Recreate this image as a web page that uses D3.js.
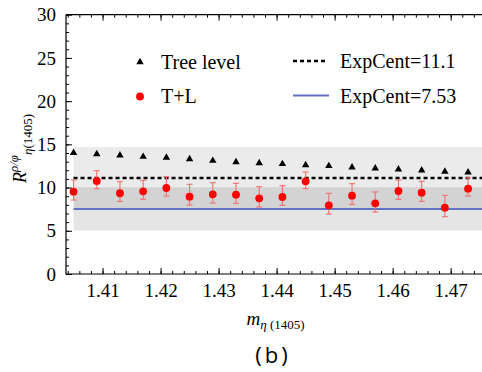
<!DOCTYPE html>
<html><head><meta charset="utf-8">
<script src="https://cdn.jsdelivr.net/npm/d3@7"></script>
<style>body{margin:0;background:#fff}svg{display:block}
.serif, .serif text{font-family:'Liberation Serif','Times New Roman',serif !important;}
</style>
</head><body>
<script>
const masses = [1.405,1.409,1.413,1.417,1.421,1.425,1.429,1.433,1.437,1.441,1.445,1.449,1.453,1.457,1.461,1.465,1.469,1.473];
const treeLevel = [14.03,13.88,13.73,13.57,13.46,13.30,13.11,12.96,12.84,12.73,12.61,12.50,12.35,12.23,12.11,12.00,11.84,11.77];
const tlValue = [9.52,10.76,9.34,9.57,9.95,8.95,9.22,9.18,8.76,8.91,10.72,7.95,9.06,8.18,9.60,9.41,7.67,9.87];
const tlLow  = [8.56,9.87,8.41,8.64,9.02,7.98,8.21,8.18,7.75,7.95,9.87,6.94,8.06,7.17,8.64,8.41,6.63,9.02];
const tlHigh = [10.88,11.95,10.68,10.84,11.26,10.38,10.56,10.49,10.10,10.22,11.80,9.34,10.45,9.49,10.88,10.72,9.10,11.14];
const expCent = [11.1, 7.53];
const expErr = [3.6, 2.5];
const xTicks = [1.41,1.42,1.43,1.44,1.45,1.46,1.47];
const yTicks = [0,5,10,15,20,25,30];
const legendLabels = ["Tree level","T+L","ExpCent=11.1","ExpCent=7.53"];

const W=482,H=372;
const svg=d3.select("body").append("svg").attr("width",W).attr("height",H);
const x=d3.scaleLinear().domain([1.4037,1.4754]).range([66,482]);
const y=d3.scaleLinear().domain([0,30]).range([274,14.7]);

// bands
const bandCols=["rgba(0,0,0,0.08)","rgba(0,0,0,0.10)"];
expCent.forEach((c,i)=>{
  svg.append("rect").attr("x",x(masses[0])).attr("width",x.range()[1]-x(masses[0])+5)
    .attr("y",y(c+expErr[i])).attr("height",y(c-expErr[i])-y(c+expErr[i]))
    .attr("fill",bandCols[i]);
});
// lines
svg.append("line").attr("x1",x(masses[0])).attr("x2",490).attr("y1",y(expCent[0])).attr("y2",y(expCent[0]))
  .attr("stroke","#000").attr("stroke-width",2.5).attr("stroke-dasharray","4,3");
svg.append("line").attr("x1",x(masses[0])).attr("x2",490).attr("y1",y(expCent[1])).attr("y2",y(expCent[1]))
  .attr("stroke","#6272c4").attr("stroke-width",2);

// axes
function styleAxis(g){g.select(".domain").remove();g.selectAll("line").attr("stroke","#000");}
svg.append("g").attr("transform","translate(66,0)")
  .call(d3.axisLeft(y).tickValues(d3.range(0,31,1)).tickSize(-3).tickFormat(""))
  .call(styleAxis);
svg.append("g").attr("class","serif").attr("transform","translate(66,0)")
  .call(d3.axisLeft(y).tickValues(yTicks).tickSize(-6).tickPadding(10).tickFormat(d3.format("d")))
  .call(styleAxis)
  .call(g=>g.selectAll("text").attr("font-size",19).attr("fill","#000"));
const minorX=d3.range(1.404,1.4755,0.002);
svg.append("g").attr("transform","translate(0,274)")
  .call(d3.axisBottom(x).tickValues(minorX).tickSize(-3).tickFormat(""))
  .call(styleAxis);
svg.append("g").attr("class","serif").attr("transform","translate(0,274)")
  .call(d3.axisBottom(x).tickValues(xTicks).tickSize(-6).tickPadding(10).tickFormat(d3.format(".2f")))
  .call(styleAxis)
  .call(g=>g.selectAll("text").attr("font-size",19).attr("fill","#000"));
svg.append("g").attr("transform","translate(0,14.7)")
  .call(d3.axisTop(x).tickValues(minorX).tickSize(-3).tickFormat(""))
  .call(styleAxis);
svg.append("g").attr("transform","translate(0,14.7)")
  .call(d3.axisTop(x).tickValues(xTicks).tickSize(-6).tickFormat(""))
  .call(styleAxis);
// frame
svg.append("path").attr("d",`M66,14.7V274H482M66,14.7H482`).attr("fill","none").attr("stroke","#000").attr("stroke-width",1.2);

// error bars
const eb=svg.append("g").attr("stroke","#f07070").attr("stroke-width",1.1);
masses.forEach((m,i)=>{
  const cx=x(m);
  eb.append("line").attr("x1",cx).attr("x2",cx).attr("y1",y(tlLow[i])).attr("y2",y(tlHigh[i]));
  eb.append("line").attr("x1",cx-3).attr("x2",cx+3).attr("y1",y(tlLow[i])).attr("y2",y(tlLow[i]));
  eb.append("line").attr("x1",cx-3).attr("x2",cx+3).attr("y1",y(tlHigh[i])).attr("y2",y(tlHigh[i]));
});
// points
const tri=d3.symbol().type(d3.symbolTriangle).size(24);
svg.append("g").selectAll("path").data(masses).join("path")
  .attr("d",tri).attr("transform",(d,i)=>`translate(${x(d)},${y(treeLevel[i])})`).attr("fill","#000");
svg.append("g").selectAll("circle").data(masses).join("circle")
  .attr("cx",d=>x(d)).attr("cy",(d,i)=>y(tlValue[i])).attr("r",3.9).attr("fill","#ff0000");

// legend
const lg=svg.append("g").attr("class","serif").attr("font-size",20).attr("fill","#000");
lg.append("path").attr("d",tri).attr("transform","translate(140,62)").attr("fill","#000");
lg.append("circle").attr("cx",140).attr("cy",96.5).attr("r",3.9).attr("fill","#ff0000");
lg.append("line").attr("x1",293).attr("x2",328).attr("y1",61).attr("y2",61).attr("stroke","#000").attr("stroke-width",2.5).attr("stroke-dasharray","4,3");
lg.append("line").attr("x1",293).attr("x2",329).attr("y1",95.5).attr("y2",95.5).attr("stroke","#6272c4").attr("stroke-width",2);
[[161,62,0],[161,96,1],[340,61,2],[340,96,3]].forEach(([tx,ty,k])=>{
  lg.append("text").attr("x",tx).attr("y",ty).attr("dy","0.35em").text(legendLabels[k]);
});

// y label
const yl=svg.append("text").attr("class","serif").attr("transform","translate(26,183) rotate(-90)").attr("fill","#000");
yl.append("tspan").attr("font-size",18).attr("font-style","italic").text("R");
yl.append("tspan").attr("font-size",13).attr("font-style","italic").attr("dy",-8).text("ρ/φ");
yl.append("tspan").attr("font-size",13).attr("font-style","italic").attr("dy",14).text("η");
yl.append("tspan").attr("font-size",13).text("(1405)");

// x label
const xl=svg.append("text").attr("class","serif").attr("x",246.5).attr("y",325).attr("fill","#000");
xl.append("tspan").attr("font-size",19).attr("font-style","italic").text("m");
xl.append("tspan").attr("font-size",13).attr("font-style","italic").attr("dy",4).text("η");
xl.append("tspan").attr("font-size",13).text(" (1405)");

svg.append("text").attr("x",273).attr("y",363).attr("text-anchor","middle")
  .attr("font-family",'"Open Sans",sans-serif').attr("font-size",22).attr("letter-spacing",3).attr("fill","#000").text("(b)");
</script>
</body></html>
